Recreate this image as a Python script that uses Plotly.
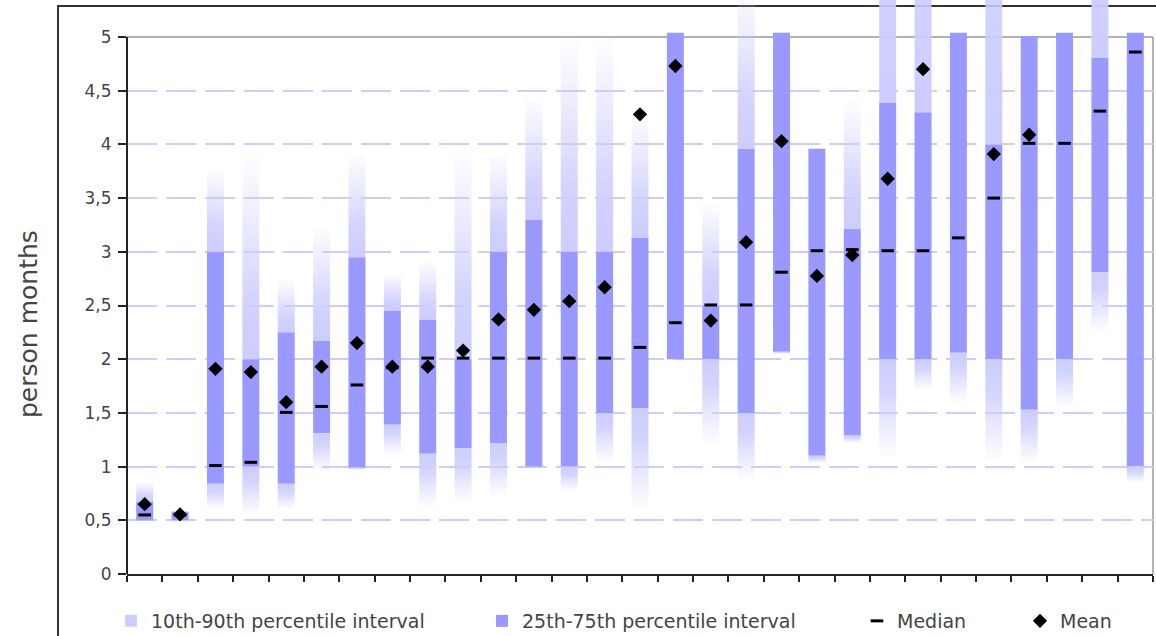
import plotly.graph_objects as go

# ---- data ----
categories = list(range(1, 30))
p10 = [0.50, 0.50, 0.60, 0.55, 0.60, 0.95, 0.97, 1.11, 0.61, 0.66,
       0.72, 1.00, 0.77, 1.03, 0.57, 2.00, 1.19, 0.85, 2.05, 1.03,
       1.22, 1.06, 1.71, 1.59, 1.03, 1.03, 1.55, 2.24, 0.85]
p25 = [0.50, 0.50, 0.84, 1.00, 0.84, 1.31, 0.99, 1.39, 1.12, 1.17,
       1.22, 1.00, 1.00, 1.50, 1.54, 2.00, 2.00, 1.50, 2.07, 1.10,
       1.29, 2.00, 2.00, 2.06, 2.00, 1.53, 2.00, 2.81, 1.00]
median = [0.55, 0.55, 1.01, 1.04, 1.505, 1.56, 1.76, 1.92, 2.01, 2.01,
          2.01, 2.01, 2.01, 2.01, 2.11, 2.34, 2.505, 2.505, 2.81, 3.01,
          3.02, 3.01, 3.01, 3.13, 3.50, 4.01, 4.01, 4.31, 4.86]
mean = [0.65, 0.555, 1.91, 1.88, 1.60, 1.93, 2.15, 1.93, 1.93, 2.08,
        2.37, 2.46, 2.54, 2.67, 4.28, 4.73, 2.36, 3.09, 4.03, 2.775,
        2.97, 3.68, 4.70, None, 3.91, 4.09, None, None, None]
p75 = [0.67, 0.58, 3.00, 2.00, 2.25, 2.17, 2.95, 2.45, 2.37, 2.00,
       3.00, 3.30, 3.00, 3.00, 3.13, 5.04, 2.50, 3.96, 5.04, 3.96,
       3.215, 4.39, 4.30, 5.04, 4.00, 5.01, 5.04, 4.81, 5.04]
p90 = [0.86, 0.58, 3.80, 3.92, 2.75, 3.27, 3.93, 2.81, 2.92, 3.98,
       3.93, 4.46, 5.03, 5.03, 4.32, 5.04, 3.48, 5.50, 5.04, 3.96,
       4.44, 9.00, 9.00, 5.04, 9.00, 5.01, 5.04, 9.00, 5.04]
y_ticks = [0, 0.5, 1, 1.5, 2, 2.5, 3, 3.5, 4, 4.5, 5]
y_grid = [0.5, 1, 1.5, 2, 2.5, 3, 3.5, 4, 4.5]

# ---- styles ----
LIGHT = "#ccccff"
DARK = "#9999ff"
BAR_W = 0.48
FONT = "DejaVu Sans"
TXT = "#444444"
Y_TOP = 574 / 107.4  # axis range top so the bars can overflow above 5

fade_up = [[0, "rgba(204,204,255,1)"], [0.3, "rgba(204,204,255,0.85)"],
           [0.7, "rgba(204,204,255,0.35)"], [1, "rgba(204,204,255,0)"]]
fade_down = [[1 - s, c] for s, c in reversed(fade_up)]

fig = go.Figure()

# 10th-90th interval: gradient-faded segments beyond the 25-75 box
for i, c in enumerate(categories):
    x0, x1 = c - BAR_W / 2, c + BAR_W / 2
    if p90[i] > p75[i]:
        fig.add_trace(go.Scatter(
            x=[x0, x1, x1, x0, x0], y=[p75[i], p75[i], p90[i], p90[i], p75[i]],
            mode="none", fill="toself",
            fillgradient=dict(type="vertical", colorscale=fade_up,
                              start=p75[i], stop=p90[i]),
            showlegend=False, hoverinfo="skip"))
    if p10[i] < p25[i]:
        fig.add_trace(go.Scatter(
            x=[x0, x1, x1, x0, x0], y=[p10[i], p10[i], p25[i], p25[i], p10[i]],
            mode="none", fill="toself",
            fillgradient=dict(type="vertical", colorscale=fade_down,
                              start=p10[i], stop=p25[i]),
            showlegend=False, hoverinfo="skip"))

# legend entry for the light interval
fig.add_trace(go.Bar(x=[None], y=[None], marker_color=LIGHT,
                     name="10th-90th percentile interval", legend="legend"))

# 25th-75th interval
fig.add_trace(go.Bar(
    x=categories, y=[b - a for a, b in zip(p25, p75)], base=p25,
    width=BAR_W, marker=dict(color=DARK, line=dict(width=0)),
    name="25th-75th percentile interval", legend="legend2"))

fig.add_trace(go.Scatter(
    x=categories, y=median, mode="markers", name="Median", legend="legend3",
    marker=dict(symbol="line-ew", size=9, color="black",
                line=dict(width=3, color="black"))))

fig.add_trace(go.Scatter(
    x=categories, y=mean, mode="markers", name="Mean", legend="legend4",
    marker=dict(symbol="diamond", size=11, color="black")))

L = 127
W = 1026


def px2x(px):
    return (px - L) / W


leg_common = dict(orientation="h", yanchor="middle", y=-(621 - 574) / 574,
                  xanchor="left", bgcolor="rgba(0,0,0,0)",
                  font=dict(family=FONT, size=19, color=TXT))

fig.update_layout(
    width=1156, height=636,
    margin=dict(l=L, r=3, t=0, b=62, autoexpand=False),
    paper_bgcolor="white", plot_bgcolor="rgba(0,0,0,0)",
    barmode="overlay", separators=",.",
    font=dict(family=FONT, color=TXT),
    legend=dict(x=px2x(137 - 26), **leg_common),
    legend2=dict(x=px2x(508 - 26), **leg_common),
    legend3=dict(x=px2x(883 - 26), **leg_common),
    legend4=dict(x=px2x(1045 - 25), **leg_common),
    xaxis=dict(range=[categories[0] - 0.5, categories[-1] + 0.5],
               tickvals=[c - 0.5 for c in categories] + [categories[-1] + 0.5],
               ticks="outside", ticklen=6, tickwidth=1.5, tickcolor="#222",
               showticklabels=False, showgrid=False, zeroline=False,
               showline=True, linecolor="#222", linewidth=2),
    yaxis=dict(range=[0, Y_TOP], tickvals=y_ticks,
               ticks="outside", ticklen=8, tickwidth=1.5, tickcolor="#222",
               tickfont=dict(family=FONT, size=17, color=TXT),
               ticklabelstandoff=3,
               showgrid=False, zeroline=False, showline=False,
               minor=dict(tickmode="array", tickvals=y_grid, ticks="",
                          showgrid=True, gridcolor="#ccccff", gridwidth=1.5,
                          griddash="30px,9px")),
    annotations=[dict(text="person months", xref="paper", yref="paper",
                      x=px2x(28), y=(574 - 324) / 574, xanchor="center",
                      yanchor="middle", textangle=-90, showarrow=False,
                      font=dict(family=FONT, size=25, color=TXT))],
    shapes=[
        # outer chart frame (cropped)
        dict(type="path", xref="paper", yref="paper", layer="below",
             path=f"M {px2x(58)},{(574 - 640) / 574} L {px2x(58)},{(574 - 6) / 574} "
                  f"L {px2x(1160)},{(574 - 6) / 574}",
             line=dict(color="#333", width=2)),
        # plot-area border at the top and right
        dict(type="line", xref="x domain", yref="y", x0=0, x1=1, y0=5, y1=5,
             layer="below", line=dict(color="#999", width=1.5)),
        dict(type="line", xref="x domain", yref="y", x0=1, x1=1, y0=0, y1=5,
             layer="below", line=dict(color="#999", width=1.5)),
        # y axis line from 0 to 5
        dict(type="line", xref="x domain", yref="y", x0=0, x1=0, y0=0, y1=5,
             layer="above", line=dict(color="#222", width=2)),
    ],
)

fig.write_html("out.html")
